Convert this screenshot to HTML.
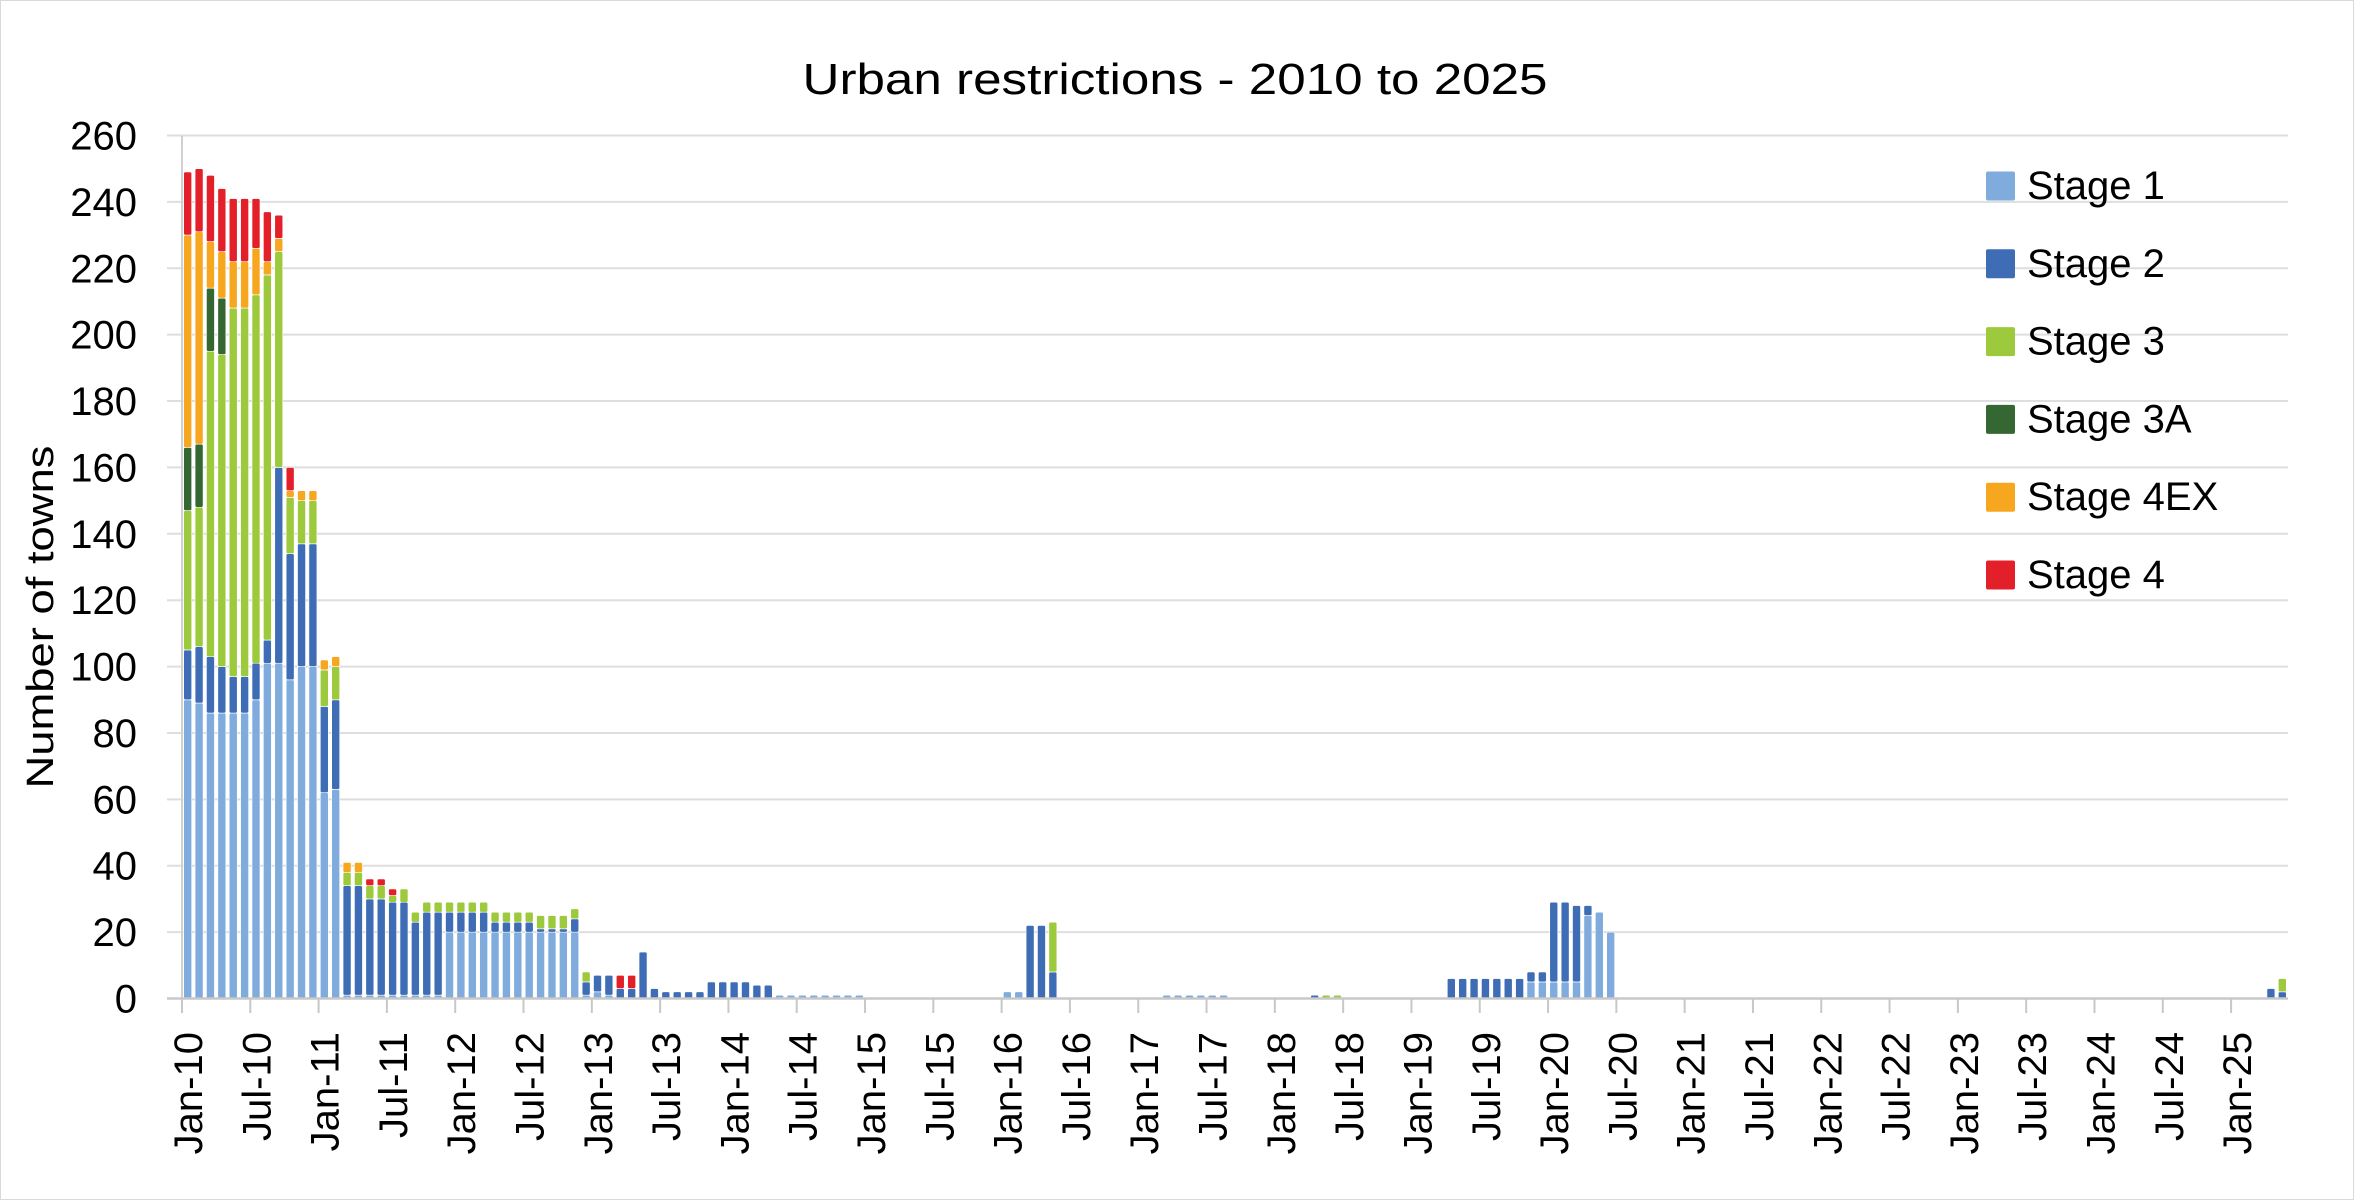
<!DOCTYPE html>
<html><head><meta charset="utf-8"><title>Urban restrictions - 2010 to 2025</title>
<style>html,body{margin:0;padding:0;background:#fff}svg{display:block}text{font-family:"Liberation Sans",sans-serif;fill:#000}</style>
</head><body>
<svg id="chart" width="2354" height="1200" viewBox="0 0 2354 1200" xmlns="http://www.w3.org/2000/svg">
<rect x="0.5" y="0.5" width="2353" height="1199" fill="#fff" stroke="#d9d9d9"/>
<text x="1175" y="94" font-size="44" text-anchor="middle" textLength="745" lengthAdjust="spacingAndGlyphs">Urban restrictions - 2010 to 2025</text>
<text transform="translate(53,617) rotate(-90)" font-size="38" text-anchor="middle" textLength="343" lengthAdjust="spacingAndGlyphs">Number of towns</text>
<g id="grid"></g><g id="bars"></g><g id="axes"></g><g id="legend"></g>
</svg>
<script>
const categoriesCount = 185;
const tickLabels = ["Jan-10","Jul-10","Jan-11","Jul-11","Jan-12","Jul-12","Jan-13","Jul-13","Jan-14","Jul-14","Jan-15","Jul-15","Jan-16","Jul-16","Jan-17","Jul-17","Jan-18","Jul-18","Jan-19","Jul-19","Jan-20","Jul-20","Jan-21","Jul-21","Jan-22","Jul-22","Jan-23","Jul-23","Jan-24","Jul-24","Jan-25"];
const yTicks = [0,20,40,60,80,100,120,140,160,180,200,220,240,260];
const seriesNames = ["Stage 1","Stage 2","Stage 3","Stage 3A","Stage 4EX","Stage 4"];
const stage1 = [90,89,86,86,86,86,90,101,101,96,100,100,62,63,
1,1,1,1,1,1,1,1,1,
20,20,20,20,20,20,20,20,20,20,20,20,
1,2,1,
0,0,0,0,0,0,0,0,0,0,0,0,0,0,
1,1,1,1,1,1,1,1,
0,0,0,0,0,0,0,0,0,0,0,0,
2,2,
0,0,0,0,0,0,0,0,0,0,0,0,
1,1,1,1,1,1,
0,0,0,0,0,0,0,0,0,0,0,0,0,0,0,0,0,0,0,0,0,0,0,0,0,0,
5,5,5,5,5,25,26,20,
0,0,0,0,0,0,0,0,0,0,0,0,0,0,0,0,0,0,0,0,0,0,0,0,0,0,0,0,0,0,0,0,0,0,0,0,0,0,0,0,0,0,0,0,0,0,0,0,0,0,0,0,0,0,0,0,0,0,0];
const stage2 = [15,17,17,14,11,11,11,7,59,38,37,37,26,27,
33,33,29,29,28,28,22,25,25,
6,6,6,6,3,3,3,3,1,1,1,4,
4,5,6,3,3,14,3,2,2,2,2,5,5,5,5,4,4,
0,0,0,0,0,0,0,0,0,0,0,0,0,0,0,0,0,0,0,0,0,0,
22,22,8,
0,0,0,0,0,0,0,0,0,0,0,0,0,0,0,0,0,0,0,0,0,0,
1,
0,0,0,0,0,0,0,0,0,0,0,
6,6,6,6,6,6,6,
3,3,24,24,23,3,
0,0,0,0,0,0,0,0,0,0,0,0,0,0,0,0,0,0,0,0,0,0,0,0,0,0,0,0,0,0,0,0,0,0,0,0,0,0,0,0,0,0,0,0,0,0,0,0,0,0,0,0,0,0,0,0,0,0,0,
3,2];
const stage3 = [42,42,92,94,111,111,111,110,65,17,13,13,11,10,
4,4,4,4,2,4,3,3,3,
3,3,3,3,3,3,3,3,4,4,4,3,
3,
0,0,0,0,0,0,0,0,0,0,0,0,0,0,0,0,0,0,0,0,0,0,0,0,0,0,0,0,0,0,0,0,0,0,0,0,0,0,0,0,
15,
0,0,0,0,0,0,0,0,0,0,0,0,0,0,0,0,0,0,0,0,0,0,0,
1,1,
0,0,0,0,0,0,0,0,0,0,0,0,0,0,0,0,0,0,0,0,0,0,0,0,0,0,0,0,0,0,0,0,0,0,0,0,0,0,0,0,0,0,0,0,0,0,0,0,0,0,0,0,0,0,0,0,0,0,0,0,0,0,0,0,0,0,0,0,0,0,0,0,0,0,0,0,0,0,0,0,0,0,
4];
const stage3A = [19,19,19,17];
const stage4EX = [64,64,14,14,14,14,14,4,4,2,3,3,3,3,3,3];
const stage4 = [19,19,20,19,19,19,15,15,7,7,0,0,0,0,0,0,2,2,2,
0,0,0,0,0,0,0,0,0,0,0,0,0,0,0,0,0,0,0,
4,4];
const seriesColors = ["#7FACDC","#3F6DB5","#9DC93D","#356732","#F7A71F","#E3202A"];

const NS = "http://www.w3.org/2000/svg";
const X0 = 182, X1 = 2288, Y0 = 998.5, YTOP = 135.5, YMAX = 260;
const step = (X1 - X0) / categoriesCount;
const barW = 8;
function xScale(i){ return X0 + i * step; }
function yScale(v){ return Y0 - (v / YMAX) * (Y0 - YTOP); }
function mk(tag, attrs, parent){ const e = document.createElementNS(NS, tag); for (const k in attrs) e.setAttribute(k, attrs[k]); parent.appendChild(e); return e; }

const grid = document.getElementById("grid");
const axes = document.getElementById("axes");
yTicks.forEach(v => {
  const y = yScale(v);
  if (v > 0) {
    const l = mk("line", {x1:167, x2:X1, y1:y, y2:y, stroke:"#dedede", "stroke-width":2}, grid);
    
    
  }
  const t = mk("text", {x:137, y:y + 14, "font-size":40, "text-anchor":"end"}, axes);
  t.textContent = v;
  
  
});
const series = [stage1, stage2, stage3, stage3A, stage4EX, stage4];
const bars = document.getElementById("bars");
for (let i = 0; i < categoriesCount; i++) {
  let base = 0;
  series.forEach((arr, s) => {
    const v = arr[i] || 0;
    if (v <= 0) return;
    const yt = yScale(base + v), yb = yScale(base);
    const r = mk("rect", {x:xScale(i) + (step - barW)/2, y:yt, width:barW, height:Math.max(yb - yt, 0.5), rx:1.5, fill:seriesColors[s], stroke:"#fff", "stroke-width":0.6}, bars);
    
    
    base += v;
  });
}
const yAxis = mk("line", {x1:X0, x2:X0, y1:YTOP, y2:Y0, stroke:"#d0d0d0", "stroke-width":2}, axes);


const xAxis = mk("line", {x1:167, x2:X1, y1:Y0, y2:Y0, stroke:"#c8c8c8", "stroke-width":2.5}, axes);


tickLabels.forEach((lab, k) => {
  const x = xScale(k * 6);
  const tk = mk("line", {x1:x, x2:x, y1:Y0, y2:1013, stroke:"#c8c8c8", "stroke-width":2}, axes);
  
  
  const t = mk("text", {transform:`translate(${x + 20},1032) rotate(-90)`, "font-size":40, "text-anchor":"end"}, axes);
  t.textContent = lab;
  
  
});
const legend = document.getElementById("legend");
seriesNames.forEach((n, s) => {
  const cy = 186 + s * 77.8;
  const g = mk("g", {}, legend);
  
  
  const sw = mk("rect", {x:1986, y:cy - 14.5, width:29, height:29, rx:2, fill:seriesColors[s]}, g);
  
  
  const t = mk("text", {x:2027, y:cy + 13, "font-size":40}, g);
  t.textContent = n;
  
  
});
</script>
</body></html>
